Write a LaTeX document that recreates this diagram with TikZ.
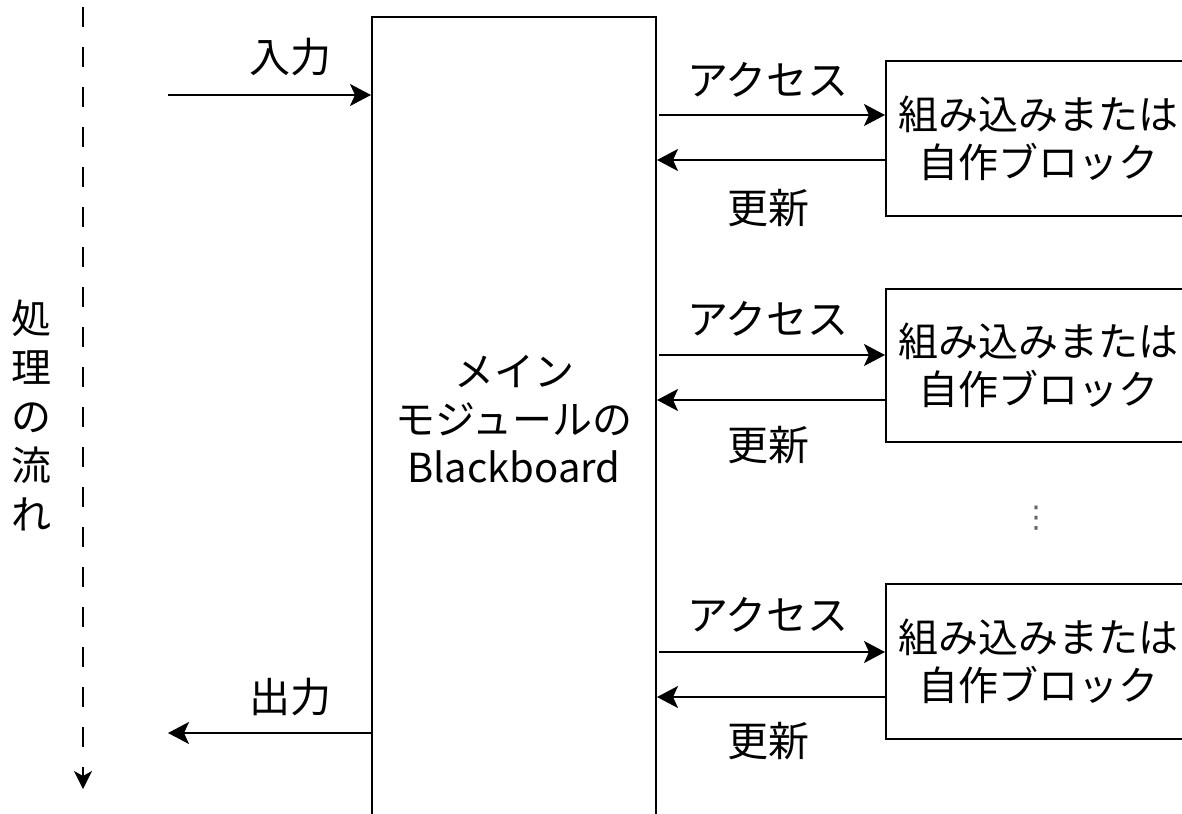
\documentclass[tikz,border=0pt]{standalone}
\usepackage{fontspec}
\setmainfont{Noto Sans CJK JP}
\newfontfamily\dejavu{DejaVu Sans}
\usetikzlibrary{arrows.meta}
\tikzset{
  lbl/.style={inner sep=0pt, font=\fontsize{41}{47}\selectfont, align=center},
  blk/.style={draw, line width=2pt, inner sep=0pt, font=\fontsize{40}{48}\selectfont, align=center},
  conn/.style={line width=2pt, -{Stealth[length=21pt,width=22pt,inset=5pt]}},
}
\begin{document}
\begin{tikzpicture}[x=1pt,y=-1pt]
\useasboundingbox (0,0) rectangle (1182,813);
\clip (0,0) rectangle (1182,813);
% main box
\node[blk, minimum width=284pt, minimum height=804pt, anchor=north west] (main) at (371,16) {メイン\\モジュールの\\Blackboard};
% right blocks
\node[blk, minimum width=304pt, minimum height=155pt, anchor=north west] (b1) at (885,60) {組み込みまたは\\自作ブロック};
\node[blk, minimum width=304pt, minimum height=153pt, anchor=north west] (b2) at (885,288) {組み込みまたは\\自作ブロック};
\node[blk, minimum width=304pt, minimum height=155pt, anchor=north west] (b3) at (885,583) {組み込みまたは\\自作ブロック};
% flow dashed arrow
\coordinate (ftop) at (83,-5);
\coordinate (fbot) at (83,789);
\draw[line width=2pt, dash pattern=on 20pt off 20pt, dash phase=-12pt, -{Stealth[length=18pt,width=18pt,inset=5pt]}] (ftop) -- (fbot);
\node[lbl, font=\fontsize{40}{49}\selectfont] (flow) at (32,415) {処\\理\\の\\流\\れ};
% input / output
\coordinate (inS) at (168,95);
\coordinate (outE) at (168,733);
\draw[conn] (inS) -- (main.west |- inS);
\draw[conn] (main.west |- outE) -- (outE);
\node[lbl] (inL) at (290,57) {入力};
\node[lbl] (outL) at (290,697) {出力};
% access / update
\foreach \b/\ya/\yu in {b1/115/160, b2/355/400, b3/652/697}{
  \coordinate (a\b) at (659,\ya);
  \coordinate (u\b) at (657,\yu);
  \draw[conn] (a\b) -- (\b.west |- a\b);
  \draw[conn] (\b.west |- u\b) -- (u\b);
}
\node[lbl] (acc1) at (768,80) {アクセス};
\node[lbl] (upd1) at (768,208) {更新};
\node[lbl] (acc2) at (768,319) {アクセス};
\node[lbl] (upd2) at (768,445) {更新};
\node[lbl] (acc3) at (768,615) {アクセス};
\node[lbl] (upd3) at (768,741) {更新};
\node[lbl, font=\dejavu\fontsize{30}{30}\selectfont, text=black!60] (dots) at (1036,518) {⋮};
\end{tikzpicture}
\end{document}
